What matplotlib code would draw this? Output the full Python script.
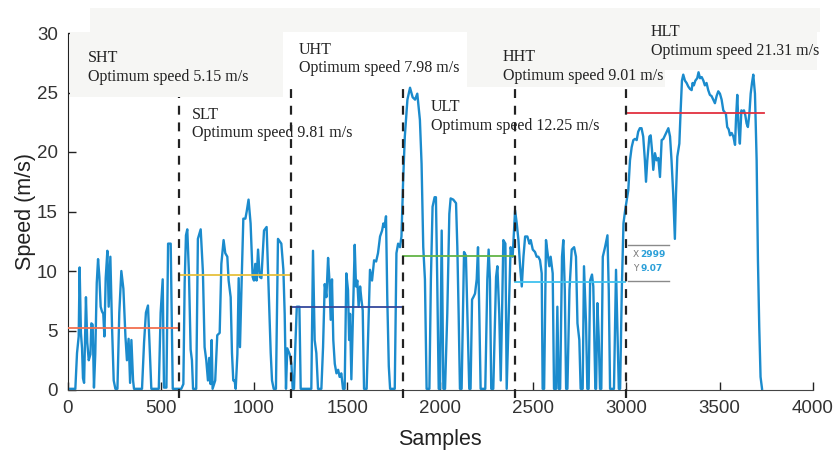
import numpy as np
import matplotlib
matplotlib.use('Agg')
import matplotlib.pyplot as plt
from matplotlib.patches import Rectangle

# speed trace, vertices (sample, m/s)
samples = [
    0, 41, 50, 59, 64, 71, 77, 82, 88, 98, 105, 113, 122, 127, 134, 141, 148, 156, 163, 170,
    177, 184, 191, 197, 204, 213, 220, 229, 238, 247, 256, 267, 277, 288, 299, 310, 318, 327,
    335, 342, 351, 356, 399, 410, 420, 431, 440, 449, 489, 499, 510, 517, 530, 539, 553, 564,
    610, 621, 628, 635, 642, 651, 660, 667, 673, 690, 699, 714, 726, 735, 744, 753, 760, 767,
    773, 778, 792, 803, 816, 825, 837, 846, 857, 864, 875, 882, 889, 896, 902, 911, 918, 925,
    934, 943, 954, 961, 971, 982, 993, 1000, 1007, 1014, 1022, 1031, 1040, 1054, 1068, 1079,
    1090, 1097, 1106, 1118, 1129, 1147, 1158, 1165, 1172, 1179, 1192, 1201, 1208, 1215, 1222,
    1230, 1244, 1251, 1308, 1317, 1326, 1335, 1344, 1362, 1371, 1380, 1389, 1398, 1405, 1412,
    1419, 1426, 1434, 1443, 1452, 1460, 1469, 1478, 1487, 1496, 1505, 1511, 1516, 1523, 1532,
    1541, 1548, 1555, 1562, 1570, 1577, 1584, 1591, 1605, 1616, 1623, 1634, 1645, 1656, 1666,
    1677, 1688, 1695, 1702, 1709, 1716, 1724, 1731, 1756, 1765, 1774, 1784, 1792, 1801, 1810,
    1824, 1838, 1852, 1865, 1877, 1891, 1900, 1909, 1918, 1927, 1942, 1950, 1959, 1970, 1977,
    1984, 1992, 1999, 2008, 2017, 2026, 2038, 2049, 2056, 2070, 2085, 2092, 2099, 2106, 2115,
    2128, 2138, 2146, 2156, 2163, 2171, 2178, 2187, 2196, 2203, 2210, 2217, 2242, 2253, 2260,
    2267, 2274, 2285, 2300, 2307, 2317, 2325, 2332, 2339, 2350, 2357, 2368, 2378, 2389, 2402,
    2411, 2420, 2429, 2438, 2447, 2456, 2468, 2479, 2486, 2497, 2509, 2518, 2527, 2536, 2545,
    2550, 2558, 2568, 2579, 2586, 2593, 2604, 2611, 2622, 2629, 2636, 2644, 2654, 2661, 2669,
    2676, 2683, 2694, 2706, 2719, 2729, 2737, 2747, 2754, 2765, 2772, 2783, 2790, 2797, 2805,
    2815, 2822, 2833, 2837, 2844, 2851, 2858, 2865, 2873, 2885, 2898, 2905, 2912, 2933, 2944,
    2951, 2959, 2966, 2975, 2984, 2993, 3002, 3010, 3019, 3028, 3037, 3046, 3055, 3063, 3072,
    3081, 3090, 3099, 3105, 3112, 3123, 3130, 3137, 3144, 3153, 3162, 3171, 3180, 3189, 3198,
    3207, 3216, 3225, 3234, 3242, 3251, 3260, 3266, 3273, 3284, 3291, 3298, 3305, 3314, 3323,
    3332, 3341, 3350, 3355, 3362, 3370, 3380, 3387, 3395, 3404, 3413, 3421, 3430, 3439, 3448,
    3457, 3466, 3475, 3484, 3493, 3502, 3511, 3520, 3534, 3541, 3549, 3556, 3565, 3574, 3583,
    3588, 3595, 3602, 3609, 3617, 3624, 3631, 3638, 3645, 3652, 3660, 3667, 3674, 3681, 3690,
    3699, 3706, 3713, 3720, 3728,
]
speed = [
    0.1, 0.1, 3.1, 4.5, 10.3, 4.8, 3.5, 1.0, 0.6, 7.8, 4.0, 2.5, 3.0, 5.6, 5.5, 0.2, 3.0, 9.0, 11.0, 9.5,
    7.0, 6.6, 6.4, 4.5, 9.4, 11.7, 7.0, 11.2, 5.3, 0.8, 0.1, 0.1, 6.5, 10.0, 8.5, 4.5, 2.5, 4.3,
    0.6, 4.2, 0.8, 0.1, 0.1, 4.0, 6.5, 7.1, 3.5, 0.1, 0.1, 6.5, 9.3, 0.2, 0.2, 12.3, 12.3, 0.1,
    0.1, 0.5, 9.0, 13.0, 13.5, 9.8, 3.4, 2.5, 0.1, 0.1, 12.7, 13.5, 9.9, 3.6, 2.5, 0.8, 2.7, 0.5,
    4.2, 0.1, 0.8, 4.6, 4.8, 10.6, 12.6, 11.5, 11.2, 9.2, 7.8, 3.1, 0.8, 0.8, 0.1, 3.0, 9.4, 3.6,
    9.2, 14.4, 14.4, 15.0, 16.0, 14.0, 9.5, 9.2, 10.6, 9.2, 11.8, 9.5, 9.4, 13.4, 13.7, 8.4,
    3.1, 0.8, 0.1, 0.1, 12.7, 12.3, 10.1, 6.4, 0.1, 3.5, 3.0, 2.2, 0.1, 0.1, 3.6,
    7.0, 7.0, 0.1, 0.1, 11.7, 4.2, 3.1, 0.1, 0.1, 3.6, 8.9, 7.8, 11.1, 9.3, 5.9,
    9.3, 4.2, 2.2, 1.4, 1.7, 1.1, 1.4, 0.1, 0.1, 9.8, 8.4, 4.2, 6.4, 0.9, 6.4,
    12.2, 8.7, 9.2, 7.0, 8.7, 7.6, 6.7, 0.1, 0.1, 6.4, 10.1, 9.2, 10.9, 10.8, 11.5,
    12.9, 13.4, 14.0, 13.7, 14.6, 7.6, 2.0, 0.1, 0.1, 11.5, 12.3, 12.0, 12.9, 17.6, 21.3,
    24.4, 25.4, 24.6, 24.4, 24.9, 22.7, 19.0, 12.0, 9.3, 0.1, 0.1, 9.3, 15.4, 16.2, 16.2,
    9.3, 0.1, 0.1, 13.4, 0.1, 0.1, 6.4, 14.8, 16.1, 16.0, 15.7, 12.0, 6.4, 0.1, 0.1,
    11.6, 11.3, 6.4, 0.1, 0.1, 7.6, 7.8, 8.1, 9.3, 12.0, 6.4, 0.1, 0.1, 9.3, 11.8,
    9.3, 0.1, 0.1, 9.5, 10.4, 6.4, 0.8, 6.4, 12.6, 12.3, 0.1, 6.4, 12.0, 11.2, 15.1,
    14.0, 12.6, 10.4, 8.7, 11.2, 12.9, 12.9, 12.3, 12.6, 11.8, 11.6, 11.2, 11.2, 10.9, 9.8,
    0.1, 0.1, 12.6, 11.2, 10.4, 11.2, 9.8, 0.1, 0.1, 7.0, 0.1, 0.1, 11.2, 12.6, 8.4,
    0.1, 0.1, 8.4, 11.8, 12.0, 11.2, 5.6, 4.2, 0.1, 0.1, 10.4, 5.6, 0.1, 0.1, 9.2,
    9.7, 8.7, 0.1, 0.1, 7.3, 4.5, 0.1, 0.1, 11.2, 12.0, 13.0, 8.4, 0.1, 0.1, 10.1,
    5.6, 0.1, 0.1, 8.4, 14.0, 15.1, 16.0, 16.8, 19.3, 20.4, 21.0, 21.1, 21.0, 21.7, 22.0,
    22.0, 21.3, 19.3, 17.5, 19.3, 21.3, 21.4, 20.2, 18.5, 19.9, 19.3, 19.5, 17.9, 21.0, 21.1,
    21.4, 21.7, 22.0, 21.3, 19.3, 16.5, 12.7, 16.5, 19.6, 20.7, 23.5, 26.0, 26.5, 26.0, 25.8,
    25.5, 25.3, 25.2, 25.8, 25.6, 26.0, 26.2, 26.7, 26.2, 26.3, 26.0, 25.6, 25.8, 25.2, 24.8,
    24.7, 24.4, 24.1, 24.7, 25.1, 24.9, 24.4, 23.5, 23.2, 22.1, 21.9, 21.4, 21.6, 21.3, 20.6,
    22.7, 24.8, 22.1, 20.7, 23.5, 23.4, 23.5, 23.1, 22.4, 22.1, 23.2, 24.9, 25.8, 26.5, 24.9,
    19.3, 10.9, 5.3, 1.1, 0.1,
]

# road types, boundaries and the level line drawn in each stretch
road_types = ['SHT', 'SLT', 'UHT', 'ULT', 'HHT', 'HLT']
optimum = [5.15, 9.81, 7.98, 12.25, 9.01, 21.31]
seg_start = [0, 600, 1200, 1800, 2400, 3000]
seg_end = [600, 1200, 1800, 2400, 2990, 3740]
level = [5.2, 9.65, 7.0, 11.25, 9.07, 23.3]
level_colors = ['#f2704f', '#e6c03e', '#34489c', '#62b446', '#3fc2ef', '#e2303f']
boundaries = [600, 1200, 1800, 2400, 3000]

# label anchor (sample, speed) for each road type
label_x = [109, 668, 1242, 1951, 2337, 3132]
label_y = [27.1, 22.35, 27.8, 23.0, 27.2, 29.3]

tip_x, tip_y = 2999, 9.07

W, H = 837, 450
fig = plt.figure(figsize=(W / 100, H / 100), dpi=100)
ax = fig.add_axes([67.7 / W, 1 - 390 / H, 745 / W, 357 / H])

# faint pasted text boxes (figure pixels), above the dashes, below the text
for x0, y0, x1, y1 in [(90, 8, 820, 32), (70, 32, 283, 97), (467, 30, 665, 87), (647, 8, 817, 70)]:
    ax.add_patch(Rectangle((x0 / W, 1 - y1 / H), (x1 - x0) / W, (y1 - y0) / H,
                           transform=fig.transFigure, facecolor='#f6f6f4',
                           edgecolor='none', zorder=4.5, clip_on=False))

ax.plot(samples, speed, color='#1b8bcd', lw=1.7, zorder=2, solid_joinstyle='round')

for s0, s1, lv, c in zip(seg_start, seg_end, level, level_colors):
    ax.plot([s0, s1], [lv, lv], color=c, lw=1.3, zorder=3)

for b in boundaries:
    ax.plot([b, b], [-0.7, 25.5], color='#222222', lw=1.6, ls=(0, (4, 3.5)),
            zorder=4, clip_on=False)

for name, opt, lx, ly in zip(road_types, optimum, label_x, label_y):
    ax.text(lx, ly, '%s\nOptimum speed %.2f m/s' % (name, opt),
            family='Liberation Serif', fontsize=11.5, color='#222222',
            ha='left', va='center', linespacing=1.2, zorder=6, clip_on=False)

# data tip
for yy in [9.2, 12.2]:
    ax.plot([3008, 3228], [yy, yy], color='#8a8a8a', lw=1.0, zorder=5)
ax.text(3035, 11.4, 'X', fontsize=6.5, color='#777777', va='center', zorder=6)
ax.text(3075, 11.4, str(tip_x), fontsize=6.5, color='#2a9fd8', va='center',
        fontweight='bold', zorder=6)
ax.text(3035, 10.25, 'Y', fontsize=6.5, color='#777777', va='center', zorder=6)
ax.text(3075, 10.25, '%.2f' % tip_y, fontsize=6.5, color='#2a9fd8', va='center',
        fontweight='bold', zorder=6)

ax.set_xlim(0, 4000)
ax.set_ylim(0, 30)
ax.set_xticks(np.arange(0, 4001, 500))
ax.set_yticks(np.arange(0, 31, 5))
for sp in ['top', 'right']:
    ax.spines[sp].set_visible(False)
ax.spines['left'].set_color('#222222')
ax.spines['bottom'].set_color('#444444')
ax.tick_params(direction='in', length=6, width=1, colors='#222222',
               labelcolor='#333333', labelsize=13.5, pad=7)
for lab in ax.get_xticklabels() + ax.get_yticklabels():
    lab.set_family('Liberation Sans')
ax.set_xlabel('Samples', family='Liberation Sans', fontsize=15.5, color='#222222', labelpad=9)
ax.set_ylabel('Speed (m/s)', family='Liberation Sans', fontsize=15.5, color='#222222', labelpad=1)

fig.savefig('out.png', dpi=100)
